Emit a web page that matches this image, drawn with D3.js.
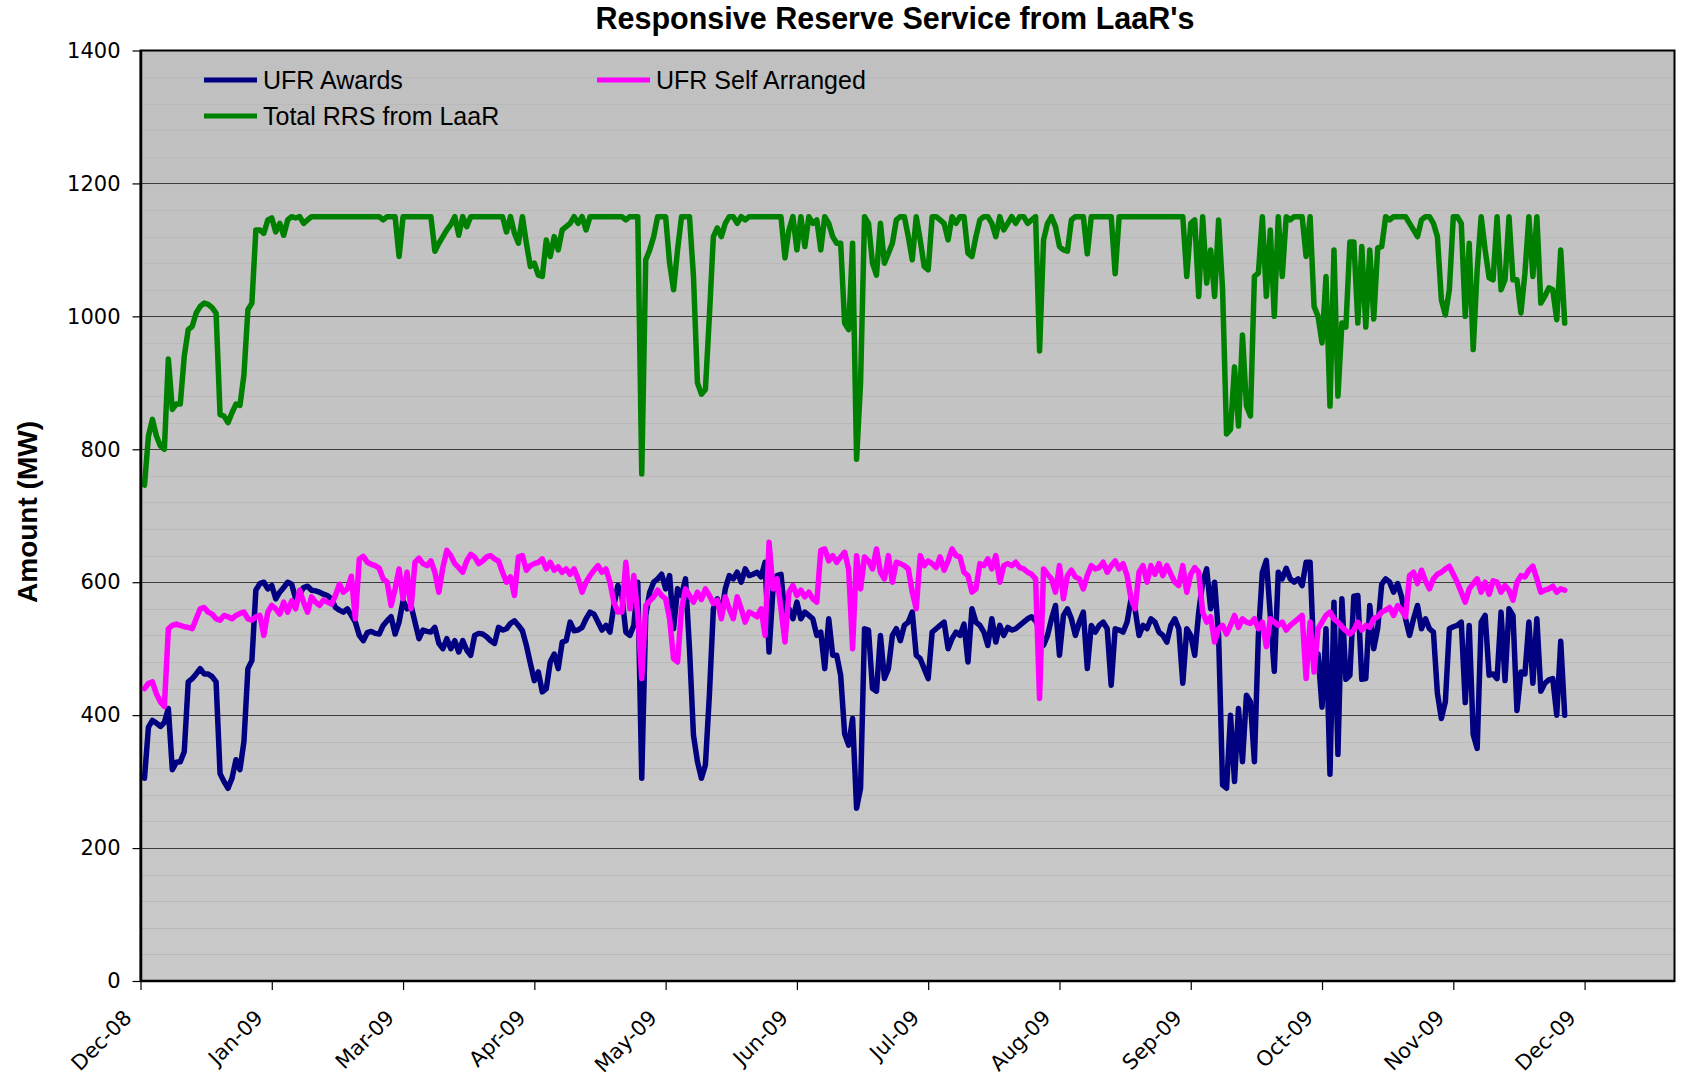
<!DOCTYPE html>
<html>

<head>
    <title>Responsive Reserve Service from LaaR's</title>
    <meta charset="UTF-8">
    <script type="text/javascript" src="https://d3js.org/d3.v7.min.js"></script>
    <style>
        body { margin: 0; background: #ffffff; }
        text { fill: #000000; }
    </style>
</head>

<body>
    <div id="my_dataviz"></div>
    <script type="text/javascript">

        // tick labels of the category axis (one every 33 days)
        var xLabels = ["Dec-08", "Jan-09", "Mar-09", "Apr-09", "May-09", "Jun-09",
            "Jul-09", "Aug-09", "Sep-09", "Oct-09", "Nov-09", "Dec-09"];
        var tickStep = 33;
        var yTicks = [0, 200, 400, 600, 800, 1000, 1200, 1400];

        // daily values, first value is day 1
        var firstDay = 1;

        var ufrAwards = [
            305, 382, 392, 388, 383, 389, 410, 318, 329, 330,
            345, 450, 455, 462, 470, 462, 462, 458, 450, 312,
            300, 290, 305, 333, 318, 360, 470, 482, 588, 598,
            600, 590, 595, 575, 585, 592, 600, 597, 575, 582,
            592, 594, 588, 587, 585, 582, 580, 575, 562, 558,
            555, 560, 550, 540, 520, 512, 524, 526, 523, 522,
            535, 542, 548, 522, 540, 572, 560, 565, 540, 515,
            528, 526, 525, 532, 508, 500, 515, 500, 512, 495,
            512, 498, 490, 520, 523, 522, 518, 512, 508, 532,
            528, 530, 538, 542, 535, 527, 505, 478, 452, 465,
            435, 440, 480, 492, 470, 510, 512, 540, 527, 528,
            532, 545, 555, 552, 540, 528, 535, 525, 565, 595,
            580, 525, 520, 535, 600, 305, 550, 585, 600, 605,
            612, 590, 610, 530, 590, 580, 605, 500, 370, 330,
            305, 325, 430, 560, 575, 550, 590, 610, 605, 615,
            600, 620, 610, 612, 615, 608, 630, 495, 590, 610,
            612, 550, 560, 545, 570, 545, 555, 550, 545, 520,
            525, 470, 545, 490, 490, 460, 372, 355, 395, 260,
            290, 530, 528, 440, 436, 520, 455, 470, 520, 530,
            512, 535, 540, 555, 490, 485, 470, 455, 525, 530,
            535, 540, 500, 515, 525, 520, 537, 480, 560, 540,
            535, 525, 505, 545, 510, 535, 520, 532, 528, 530,
            535, 540, 545, 548, 542, 530, 505, 520, 545, 565,
            490, 550, 560, 545, 520, 540, 555, 470, 535, 525,
            535, 540, 530, 445, 530, 528, 525, 540, 575, 560,
            520, 535, 530, 545, 540, 525, 520, 510, 535, 545,
            530, 448, 530, 520, 490, 555, 600, 620, 560, 600,
            520, 295, 290, 400, 300, 410, 330, 430, 420, 330,
            520, 615, 633, 550, 466, 615, 605, 621, 605, 600,
            605, 595, 630, 630, 480, 492, 412, 530, 311, 570,
            341, 575, 454, 460, 579, 580, 454, 455, 565, 500,
            531, 597, 605, 600, 585, 598, 578, 545, 520, 545,
            565, 530, 545, 530, 525, 433, 395, 420, 530, 533,
            535, 540, 419, 535, 371, 350, 540, 550, 460, 462,
            455, 555, 452, 560, 550, 407, 465, 462, 540, 448,
            545, 436, 448, 453, 455, 400, 511, 400
        ];

        var ufrSelfArranged = [
            440, 448, 450, 432, 420, 413, 530, 535, 537, 535,
            533, 532, 530, 545, 560, 562, 555, 552, 545, 543,
            550, 548, 545, 550, 553, 555, 545, 543, 548, 550,
            520, 555, 565, 560, 552, 570, 555, 572, 560, 588,
            570, 555, 578, 570, 565, 573, 570, 567, 580, 597,
            585, 590, 609, 545, 635, 639, 630, 627, 625, 621,
            605, 600, 565, 590, 620, 575, 615, 560, 630, 636,
            628, 625, 632, 615, 585, 622, 648, 640, 628, 622,
            615, 632, 642, 638, 628, 632, 638, 640, 635, 632,
            615, 600, 608, 580, 638, 640, 618, 625, 628, 630,
            635, 620, 630, 618, 623, 615, 620, 612, 620, 605,
            585, 600, 610, 618, 625, 615, 620, 600, 570, 555,
            555, 630, 560, 610, 552, 455, 565, 572, 578, 588,
            580, 575, 545, 485, 480, 560, 590, 580, 570, 585,
            574, 590, 580, 568, 573, 545, 578, 560, 545, 578,
            560, 540, 555, 552, 548, 560, 520, 660, 590, 605,
            560, 510, 585, 595, 580, 588, 578, 585, 575, 570,
            648, 650, 632, 640, 630, 638, 645, 620, 500, 640,
            590, 638, 632, 620, 650, 615, 605, 640, 600, 630,
            628, 625, 620, 585, 560, 640, 625, 632, 628, 622,
            638, 618, 632, 650, 640, 638, 615, 610, 585, 590,
            628, 625, 635, 620, 640, 600, 625, 628, 625, 630,
            622, 620, 615, 612, 605, 425, 620, 612, 605, 585,
            625, 575, 610, 618, 608, 605, 590, 610, 625, 620,
            622, 630, 615, 625, 632, 620, 628, 610, 575, 560,
            615, 625, 600, 625, 612, 628, 610, 625, 612, 600,
            595, 625, 585, 612, 622, 615, 555, 540, 548, 510,
            530, 535, 522, 535, 550, 532, 545, 540, 538, 545,
            530, 540, 503, 545, 540, 535, 540, 528, 535, 540,
            545, 550, 455, 540, 465, 530, 540, 550, 555, 545,
            540, 533, 527, 522, 528, 540, 528, 535, 532, 545,
            548, 555, 558, 562, 550, 565, 558, 548, 610, 615,
            598, 618, 602, 590, 605, 612, 615, 620, 624, 612,
            600, 585, 570, 590, 598, 605, 585, 600, 582, 602,
            600, 585, 595, 588, 573, 600, 610, 608, 618, 624,
            605, 585, 588, 590, 594, 585, 590, 588
        ];

        var totalRRS = [
            746, 820, 845, 820, 805, 800, 936, 860, 868, 868,
            940, 980, 985, 1005, 1015, 1020, 1018, 1013, 1005, 852,
            850, 840, 855, 868, 866, 912, 1010, 1020, 1130, 1130,
            1125, 1145, 1148, 1127, 1140, 1122, 1145, 1150, 1148, 1150,
            1140, 1145, 1150, 1150, 1150, 1150, 1150, 1150, 1150, 1150,
            1150, 1150, 1150, 1150, 1150, 1150, 1150, 1150, 1150, 1150,
            1145, 1150, 1150, 1150, 1090, 1150, 1150, 1150, 1150, 1150,
            1150, 1150, 1150, 1098, 1110, 1120, 1130, 1138, 1150, 1122,
            1150, 1135, 1150, 1150, 1150, 1150, 1150, 1150, 1150, 1150,
            1150, 1127, 1150, 1125, 1110, 1150, 1110, 1075, 1080, 1062,
            1060, 1115, 1090, 1120, 1100, 1130, 1135, 1140, 1150, 1140,
            1150, 1130, 1150, 1150, 1150, 1150, 1150, 1150, 1150, 1150,
            1150, 1145, 1150, 1150, 1150, 763, 1085, 1100, 1120, 1150,
            1150, 1150, 1080, 1040, 1100, 1150, 1150, 1150, 1060, 900,
            883, 890, 1000, 1120, 1133, 1120, 1140, 1150, 1150, 1140,
            1150, 1145, 1150, 1150, 1150, 1150, 1150, 1150, 1150, 1150,
            1150, 1088, 1130, 1150, 1100, 1150, 1105, 1150, 1140, 1145,
            1100, 1150, 1140, 1120, 1110, 1110, 990, 980, 1110, 785,
            900, 1150, 1140, 1080, 1062, 1140, 1080, 1095, 1110, 1145,
            1150, 1150, 1120, 1085, 1150, 1115, 1075, 1070, 1150, 1150,
            1145, 1140, 1115, 1150, 1140, 1150, 1150, 1095, 1090, 1120,
            1145, 1150, 1150, 1140, 1120, 1150, 1130, 1140, 1150, 1140,
            1150, 1150, 1140, 1145, 1150, 948, 1115, 1140, 1150, 1135,
            1105, 1100, 1098, 1145, 1150, 1150, 1150, 1094, 1150, 1150,
            1150, 1150, 1150, 1150, 1064, 1150, 1150, 1150, 1150, 1150,
            1150, 1150, 1150, 1150, 1150, 1150, 1150, 1150, 1150, 1150,
            1150, 1150, 1060, 1140, 1145, 1030, 1150, 1050, 1100, 1030,
            1145, 1040, 823, 830, 924, 835, 972, 865, 850, 1060,
            1065, 1150, 1030, 1130, 1000, 1150, 1060, 1150, 1145, 1150,
            1150, 1150, 1090, 1150, 1015, 1000, 960, 1060, 865, 1100,
            880, 990, 984, 1112, 1112, 990, 1105, 984, 1100, 996,
            1103, 1105, 1150, 1145, 1150, 1150, 1150, 1150, 1140, 1130,
            1120, 1145, 1150, 1150, 1140, 1120, 1025, 1002, 1040, 1150,
            1150, 1140, 1000, 1110, 950, 1070, 1150, 1100, 1058, 1055,
            1150, 1040, 1055, 1150, 1055, 1055, 1005, 1065, 1150, 1060,
            1150, 1020, 1030, 1043, 1040, 995, 1100, 990
        ];

        var seriesNames = ["UFR Awards", "UFR Self Arranged", "Total RRS from LaaR"];
        var seriesColors = ["#000080", "#ff00ff", "#008000"];

        // set the dimensions of the page and the plot area
        var width = 1681, height = 1077;
        var plot = { left: 140.5, right: 1674.5, top: 50.5, bottom: 981 };

        var svg = d3.select("#my_dataviz")
            .append("svg")
            .attr("width", width)
            .attr("height", height)
            .style("display", "block");

        var x = d3.scaleLinear()
            .domain([0, 385.6])
            .range([plot.left, plot.right]);

        var y = d3.scaleLinear()
            .domain([0, 1400])
            .range([plot.bottom, plot.top]);

        // plot background, slightly lighter towards the bottom
        var grad = svg.append("defs").append("linearGradient")
            .attr("id", "bg")
            .attr("x1", 0).attr("y1", 0).attr("x2", 0).attr("y2", 1);
        grad.append("stop").attr("offset", "0%").attr("stop-color", "#c0c0c0");
        grad.append("stop").attr("offset", "100%").attr("stop-color", "#c9c9c9");

        svg.append("rect")
            .attr("x", plot.left)
            .attr("y", plot.top)
            .attr("width", plot.right - plot.left)
            .attr("height", plot.bottom - plot.top)
            .attr("fill", "url(#bg)");

        // faint minor gridlines every 40 MW
        var minor = d3.range(40, 1400, 40).filter(function (v) { return v % 200 !== 0; });
        svg.selectAll("minorgrid")
            .data(minor)
            .enter()
            .append("line")
            .attr("x1", plot.left).attr("x2", plot.right)
            .attr("y1", function (d) { return Math.round(y(d)) + 0.5; })
            .attr("y2", function (d) { return Math.round(y(d)) + 0.5; })
            .attr("stroke", "#b9b9b9")
            .attr("stroke-width", 1);

        // major gridlines
        svg.selectAll("majorgrid")
            .data(yTicks.filter(function (v) { return v > 0 && v < 1400; }))
            .enter()
            .append("line")
            .attr("x1", plot.left).attr("x2", plot.right)
            .attr("y1", function (d) { return Math.round(y(d)) + 0.5; })
            .attr("y2", function (d) { return Math.round(y(d)) + 0.5; })
            .attr("stroke", "#3c3c3c")
            .attr("stroke-width", 1.2);

        // the three series, drawn in legend order
        var line = d3.line()
            .x(function (d, i) { return x(i + firstDay); })
            .y(function (d) { return y(d); });

        var allSeries = [ufrAwards, ufrSelfArranged, totalRRS];
        svg.selectAll("series")
            .data(allSeries)
            .enter()
            .append("path")
            .attr("d", line)
            .attr("fill", "none")
            .attr("stroke", function (d, i) { return seriesColors[i]; })
            .attr("stroke-width", 5.5)
            .attr("stroke-linejoin", "round")
            .attr("stroke-linecap", "round");

        // frame of the plot area
        svg.append("rect")
            .attr("x", plot.left)
            .attr("y", plot.top)
            .attr("width", plot.right - plot.left)
            .attr("height", plot.bottom - plot.top)
            .attr("fill", "none")
            .attr("stroke", "#000000")
            .attr("stroke-width", 2);

        // y axis
        var yAxis = svg.append("g")
            .attr("transform", "translate(" + plot.left + ",0)")
            .call(d3.axisLeft(y).tickValues(yTicks).tickFormat(d3.format("d"))
                .tickSize(8).tickPadding(12).tickSizeOuter(0));
        yAxis.select(".domain").attr("stroke", "#000").attr("stroke-width", 2.5);
        yAxis.selectAll(".tick line").attr("stroke", "#000").attr("stroke-width", 1.2);
        yAxis.selectAll("text")
            .style("font-family", "'DejaVu Sans', sans-serif")
            .style("font-size", "21px");

        // x axis
        var xAxis = svg.append("g")
            .attr("transform", "translate(0," + plot.bottom + ")")
            .call(d3.axisBottom(x)
                .tickValues(d3.range(0, xLabels.length * tickStep, tickStep))
                .tickFormat(function (d, i) { return xLabels[i]; })
                .tickSize(9)
                .tickSizeOuter(0));
        xAxis.select(".domain").attr("stroke", "#000").attr("stroke-width", 2.5)
            .attr("d", "M" + plot.left + ",0H" + plot.right);
        xAxis.selectAll(".tick line").attr("stroke", "#000").attr("stroke-width", 1.2);
        xAxis.selectAll("text")
            .attr("y", 0)
            .attr("dy", 0)
            .attr("text-anchor", "end")
            .attr("transform", "translate(-8,38) rotate(-45)")
            .style("font-family", "'DejaVu Sans', sans-serif")
            .style("font-size", "21px");

        // title
        svg.append("text")
            .attr("x", 895)
            .attr("y", 29)
            .attr("text-anchor", "middle")
            .style("font-family", "'Liberation Sans', Arial, sans-serif")
            .style("font-weight", "bold")
            .style("font-size", "30.5px")
            .text("Responsive Reserve Service from LaaR's");

        // y axis title
        svg.append("text")
            .attr("transform", "translate(37,512) rotate(-90)")
            .attr("text-anchor", "middle")
            .style("font-family", "'Liberation Sans', Arial, sans-serif")
            .style("font-weight", "bold")
            .style("font-size", "28px")
            .text("Amount (MW)");

        // legend
        var legendPos = [[204, 80], [597, 80], [204, 116]];
        var legend = svg.selectAll("legend")
            .data(seriesNames)
            .enter()
            .append("g")
            .attr("transform", function (d, i) { return "translate(" + legendPos[i][0] + "," + legendPos[i][1] + ")"; });
        legend.append("line")
            .attr("x1", 0).attr("x2", 53)
            .attr("y1", 0).attr("y2", 0)
            .attr("stroke", function (d, i) { return seriesColors[i]; })
            .attr("stroke-width", 5);
        legend.append("text")
            .attr("x", 59)
            .attr("y", 9)
            .style("font-family", "'Liberation Sans', Arial, sans-serif")
            .style("font-size", "25px")
            .text(function (d) { return d; });

    </script>
</body>

</html>
